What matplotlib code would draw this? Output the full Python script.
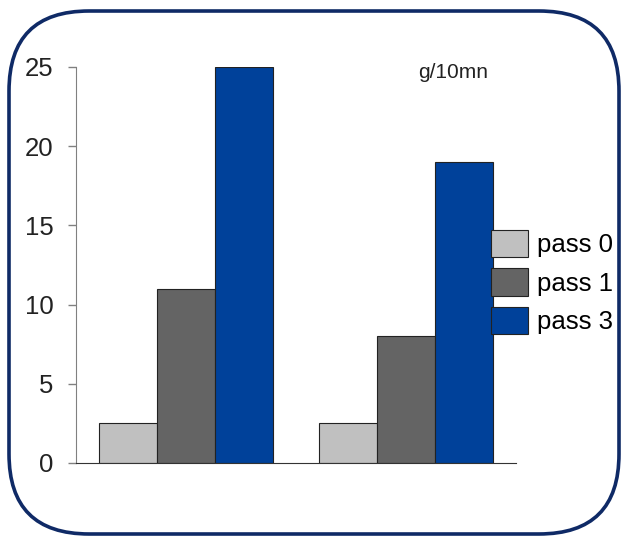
import matplotlib
matplotlib.use("Agg")
import matplotlib.pyplot as plt
from matplotlib.patches import FancyBboxPatch
import numpy as np

# data
groups = ["A", "B"]
series = ["pass 0", "pass 1", "pass 3"]
pass0 = [2.5, 2.5]
pass1 = [11, 8]
pass3 = [25, 19]
colors = ["#c0c0c0", "#646464", "#00419a"]
unit_label = "g/10mn"
yticks = [0, 5, 10, 15, 20, 25]

plt.rcParams["font.family"] = ["Liberation Sans", "DejaVu Sans"]

fig = plt.figure(figsize=(6.25, 5.39), dpi=100)

# rounded frame around the whole chart, drawn in pixel units
bg = fig.add_axes([0, 0, 1, 1])
bg.set_xlim(0, 625)
bg.set_ylim(539, 0)
bg.axis("off")
frame = FancyBboxPatch((9, 11), 610, 523, boxstyle="round,pad=0,rounding_size=80",
                       facecolor="white", edgecolor="#0f2a66", linewidth=2.6)
bg.add_patch(frame)

ax = fig.add_axes([76 / 625, (539 - 463) / 539, 440 / 625, 396 / 539])
ax.patch.set_alpha(0)

x = np.arange(len(groups))
w = 0.264
for i, (vals, name) in enumerate(zip([pass0, pass1, pass3], series)):
    ax.bar(x + (i - 1) * w, vals, w, color=colors[i], edgecolor="#222222",
           linewidth=0.8, label=name)

ax.set_xlim(-0.5, 1.5)
ax.set_ylim(0, 25)
ax.set_yticks(yticks)
ax.set_xticks([])
for s in ["top", "right"]:
    ax.spines[s].set_visible(False)
ax.spines["left"].set_color("#808080")
ax.spines["bottom"].set_color("#333333")
ax.tick_params(axis="y", length=6, width=1, color="#808080", pad=10,
               labelsize=18.5, labelcolor="#222222")

fig.text(418 / 625, 1 - 72 / 539, unit_label, fontsize=15, color="#222222",
         va="center", ha="left")

ax.legend(loc="center left", bbox_to_anchor=(491 / 625, 1 - 282 / 539),
          bbox_transform=fig.transFigure, frameon=False, fontsize=18.5,
          handlelength=1.45, handleheight=1.25, handletextpad=0.35,
          labelspacing=0.45, borderpad=0, borderaxespad=0)

fig.savefig("out.png", dpi=100)
